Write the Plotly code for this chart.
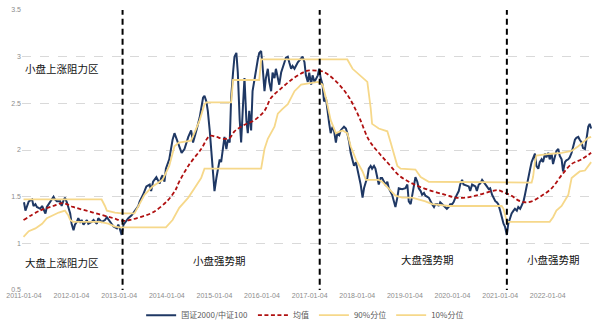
import pandas as pd
import plotly.graph_objects as go

# ---------------- data (decimal years) ----------------
ratio_t = [2011.01,2011.04,2011.11,2011.18,2011.21,2011.25,2011.28,2011.35,2011.39,2011.46,2011.49,2011.56,2011.63,2011.66,2011.70,2011.77,2011.80,2011.84,2011.87,2011.91,2011.98,
 2012.01,2012.05,2012.08,2012.12,2012.15,2012.19,2012.22,2012.26,2012.33,2012.36,2012.43,2012.47,2012.54,2012.57,2012.64,2012.71,2012.75,2012.82,2012.89,2012.96,2012.99,
 2013.02,2013.06,2013.10,2013.14,2013.20,2013.27,2013.34,2013.41,2013.44,2013.51,2013.58,2013.65,2013.68,2013.72,2013.79,2013.86,2013.89,2013.92,2013.96,2013.99,
 2014.06,2014.10,2014.13,2014.17,2014.20,2014.25,2014.32,2014.38,2014.46,2014.52,2014.56,2014.63,2014.70,2014.77,2014.80,2014.84,2014.87,2014.91,2014.94,2014.98,
 2015.01,2015.05,2015.08,2015.12,2015.15,2015.19,2015.22,2015.26,2015.29,2015.33,2015.36,2015.40,2015.43,2015.47,2015.50,2015.54,2015.57,2015.61,2015.64,2015.68,2015.71,2015.74,2015.78,2015.81,2015.85,2015.88,2015.92,2015.95,2015.99,
 2016.02,2016.06,2016.09,2016.13,2016.16,2016.20,2016.23,2016.27,2016.30,2016.34,2016.37,2016.41,2016.44,2016.48,2016.51,2016.55,2016.58,2016.62,2016.65,2016.69,2016.76,2016.83,2016.86,2016.90,2016.93,2016.97,
 2017.00,2017.04,2017.07,2017.11,2017.18,2017.21,2017.24,2017.28,2017.31,2017.35,2017.38,2017.42,2017.45,2017.49,2017.52,2017.56,2017.59,2017.63,2017.66,2017.70,2017.73,2017.77,2017.80,2017.84,2017.87,2017.91,2017.94,2017.98,
 2018.01,2018.05,2018.08,2018.12,2018.15,2018.19,2018.22,2018.25,2018.29,2018.32,2018.36,2018.39,2018.43,2018.46,2018.50,2018.53,2018.57,2018.60,2018.64,2018.67,2018.74,2018.81,2018.85,2018.88,2018.95,
 2019.02,2019.06,2019.09,2019.13,2019.16,2019.20,2019.23,2019.27,2019.30,2019.34,2019.37,2019.41,2019.44,2019.51,2019.55,2019.58,2019.62,2019.65,2019.69,2019.72,2019.75,2019.79,2019.82,2019.86,2019.89,2019.93,2019.96,
 2020.00,2020.03,2020.07,2020.10,2020.14,2020.17,2020.21,2020.24,2020.28,2020.35,2020.38,2020.42,2020.49,2020.52,2020.56,2020.59,2020.63,2020.66,2020.70,2020.73,2020.77,2020.80,2020.84,2020.87,2020.91,2020.94,2020.97,
 2021.01,2021.04,2021.08,2021.11,2021.15,2021.18,2021.22,2021.25,2021.29,2021.32,2021.36,2021.39,2021.43,2021.46,2021.50,2021.53,2021.57,2021.60,2021.64,2021.67,2021.70,2021.74,2021.77,2021.81,2021.84,2021.88,2021.91,2021.95,2021.98,
 2022.02,2022.05,2022.09,2022.12,2022.16,2022.19,2022.23,2022.26,2022.30,2022.33,2022.37,2022.40,2022.44,2022.47,2022.51,2022.54,2022.58,2022.61,2022.65,2022.68,2022.72,2022.75,2022.79,2022.82,2022.86,2022.89,2022.92]
ratio_v = [1.44,1.35,1.45,1.47,1.40,1.42,1.39,1.37,1.40,1.32,1.39,1.44,1.50,1.47,1.45,1.45,1.40,1.46,1.49,1.44,1.32,
 1.21,1.14,1.20,1.23,1.27,1.23,1.25,1.20,1.25,1.21,1.23,1.25,1.21,1.27,1.23,1.25,1.28,1.23,1.18,1.16,1.20,
 1.16,1.09,1.20,1.23,1.27,1.30,1.35,1.40,1.45,1.52,1.61,1.63,1.56,1.66,1.71,1.64,1.70,1.73,1.66,1.80,
 1.90,2.04,2.11,2.18,2.14,2.08,1.97,2.01,2.14,2.21,2.08,2.21,2.35,2.56,2.58,2.52,2.42,2.21,2.01,1.80,
 1.56,1.70,1.80,1.90,1.87,2.01,2.14,2.01,2.11,2.08,2.56,2.83,3.00,3.04,2.83,2.32,2.08,2.49,2.77,2.32,2.18,2.42,2.21,2.63,2.77,2.87,2.97,3.04,3.06,
 2.90,2.63,2.77,2.87,2.73,2.63,2.83,2.77,2.87,2.77,2.70,2.83,2.87,2.94,2.99,3.00,2.94,2.87,2.90,2.87,2.94,2.99,3.00,2.94,2.80,2.73,
 2.83,2.70,2.80,2.73,2.80,2.87,2.77,2.70,2.52,2.56,2.42,2.28,2.18,2.25,2.21,2.08,2.18,2.16,2.21,2.23,2.25,2.23,2.18,2.08,1.97,1.89,1.83,1.87,
 1.80,1.70,1.63,1.49,1.59,1.66,1.70,1.80,1.83,1.80,1.83,1.80,1.70,1.63,1.70,1.70,1.66,1.63,1.66,1.59,1.52,1.39,1.49,1.59,1.58,
 1.59,1.63,1.45,1.42,1.51,1.63,1.71,1.66,1.59,1.56,1.52,1.54,1.51,1.49,1.44,1.42,1.39,1.42,1.42,1.40,1.44,1.42,1.40,1.39,1.37,1.39,1.42,
 1.42,1.44,1.49,1.52,1.56,1.63,1.68,1.63,1.62,1.61,1.56,1.63,1.61,1.56,1.63,1.64,1.68,1.66,1.64,1.61,1.58,1.59,1.52,1.49,1.45,1.44,1.42,
 1.35,1.28,1.21,1.18,1.09,1.21,1.28,1.32,1.35,1.37,1.35,1.39,1.37,1.40,1.45,1.52,1.63,1.73,1.80,1.87,1.92,1.96,1.83,1.80,1.87,1.90,1.87,1.96,1.92,
 1.97,1.90,1.96,1.85,1.94,1.99,2.01,1.94,1.90,1.77,1.87,1.89,1.90,1.92,1.97,2.04,2.11,2.13,2.14,2.11,2.08,2.02,2.01,2.11,2.25,2.28,2.23]

mean_t = [2011.00,2011.34,2011.62,2011.83,2012.04,2012.32,2012.60,2012.88,2013.09,2013.23,2013.44,2013.71,2014.03,2014.20,2014.25,2014.46,2014.73,2014.91,2015.05,2015.19,2015.33,2015.43,2015.64,2015.85,2016.06,2016.20,2016.41,2016.62,2016.83,2016.97,2017.18,2017.29,2017.42,2017.63,2017.84,2018.05,2018.25,2018.46,2018.67,2018.88,2019.09,2019.30,2019.58,2019.86,2020.07,2020.28,2020.56,2020.84,2020.97,2021.11,2021.25,2021.39,2021.53,2021.67,2021.88,2022.09,2022.30,2022.51,2022.72,2022.92]
mean_v = [1.25,1.35,1.40,1.43,1.39,1.35,1.31,1.27,1.24,1.25,1.28,1.33,1.46,1.58,1.64,1.83,2.01,2.15,2.14,2.12,2.13,2.20,2.27,2.32,2.42,2.56,2.66,2.75,2.82,2.85,2.85,2.84,2.80,2.70,2.56,2.35,2.11,1.97,1.85,1.73,1.66,1.61,1.56,1.52,1.49,1.49,1.52,1.56,1.57,1.54,1.51,1.46,1.44,1.45,1.51,1.59,1.73,1.85,1.90,1.97]

p90_t = [2011.00,2012.64,2012.71,2012.75,2012.92,2013.06,2013.33,2013.40,2013.54,2013.71,2013.92,2014.06,2014.17,2014.26,2014.52,2014.70,2014.80,2014.84,2015.36,2015.40,2015.95,2015.99,2017.80,2017.91,2018.12,2018.22,2018.29,2018.32,2018.46,2018.64,2018.71,2018.78,2018.85,2018.92,2019.23,2019.34,2019.51,2021.67,2021.70,2021.74,2021.77,2022.09,2022.30,2022.51,2022.65,2022.86,2022.92]
p90_v = [1.47,1.47,1.40,1.35,1.33,1.32,1.32,1.39,1.52,1.61,1.68,1.83,2.04,2.08,2.10,2.32,2.49,2.51,2.51,2.75,2.75,2.97,2.97,2.87,2.77,2.73,2.45,2.28,2.23,2.20,2.08,1.94,1.83,1.80,1.79,1.71,1.66,1.65,1.71,1.87,1.94,1.96,1.97,1.99,2.04,2.13,2.14]

p10_t = [2011.00,2011.11,2011.25,2011.39,2011.49,2011.60,2011.74,2011.87,2011.94,2011.98,2012.04,2012.60,2012.78,2012.92,2013.02,2013.99,2014.03,2014.13,2014.27,2014.46,2014.59,2014.73,2014.80,2015.99,2016.06,2016.13,2016.27,2016.34,2016.44,2016.55,2016.69,2016.83,2017.18,2017.28,2017.35,2017.45,2017.56,2017.70,2017.80,2017.87,2017.98,2018.12,2018.19,2018.46,2018.53,2018.67,2018.81,2018.95,2019.16,2019.44,2019.58,2019.93,2021.04,2021.08,2021.15,2022.05,2022.12,2022.19,2022.30,2022.44,2022.51,2022.58,2022.68,2022.79,2022.89,2022.92]
p10_v = [1.07,1.13,1.16,1.21,1.27,1.30,1.33,1.35,1.30,1.25,1.23,1.23,1.21,1.18,1.17,1.17,1.19,1.25,1.38,1.49,1.59,1.70,1.80,1.80,2.01,2.12,2.25,2.39,2.44,2.49,2.63,2.70,2.73,2.70,2.56,2.32,2.18,2.21,2.18,2.04,1.90,1.77,1.68,1.68,1.66,1.59,1.51,1.49,1.49,1.45,1.42,1.40,1.40,1.37,1.23,1.23,1.28,1.35,1.40,1.52,1.70,1.73,1.77,1.78,1.85,1.87]

split_t = [2013.08, 2017.22, 2021.15]
tick_labels = ["2011-01-04","2012-01-04","2013-01-04","2014-01-04","2015-01-04","2016-01-04",
               "2017-01-04","2018-01-04","2019-01-04","2020-01-04","2021-01-04","2022-01-04"]
y_ticks = [0.5, 1, 1.5, 2, 2.5, 3, 3.5]
zone_text = ["小盘上涨阻力区", "大盘上涨阻力区", "小盘强势期", "大盘强势期", "小盘强势期"]
zone_t = [2011.80, 2011.80, 2015.11, 2019.48, 2022.12]
zone_v = [2.87, 0.80, 0.82, 0.83, 0.83]


def yr(v):
    return pd.Timestamp("2011-01-01") + pd.Timedelta(days=(v - 2011.0) * 365.25)


def dates(lst):
    return [yr(v) for v in lst]


fig = go.Figure()
fig.add_trace(go.Scatter(x=dates(ratio_t), y=ratio_v, mode="lines", name="国证2000/中证100",
                         line=dict(color="#1F3864", width=2)))
fig.add_trace(go.Scatter(x=dates(mean_t), y=mean_v, mode="lines", name="均值", line_shape="spline",
                         line=dict(color="#B01010", width=1.8, dash="4px,2.5px")))
fig.add_trace(go.Scatter(x=dates(p90_t), y=p90_v, mode="lines", name="90%分位",
                         line=dict(color="#F6D88A", width=1.8)))
fig.add_trace(go.Scatter(x=dates(p10_t), y=p10_v, mode="lines", name="10%分位",
                         line=dict(color="#F6D88A", width=1.8)))

for s in split_t:
    fig.add_shape(type="line", x0=yr(s), x1=yr(s), y0=0.45, y1=3.5, xref="x", yref="y",
                  line=dict(color="black", width=2, dash="6px,4px"))

for txt, t, v in zip(zone_text, zone_t, zone_v):
    fig.add_annotation(x=yr(t), y=v, text=txt, showarrow=False,
                       font=dict(family="Noto Sans CJK SC", size=10.5, color="#111111"))

tick_dates = [pd.Timestamp(s) for s in tick_labels]
fig.update_layout(
    width=600, height=336,
    margin=dict(l=20, r=6, t=9, b=37),
    paper_bgcolor="white", plot_bgcolor="white",
    font=dict(family="Liberation Sans, Noto Sans CJK SC", size=7, color="#7f7f7f"),
    showlegend=True,
    legend=dict(orientation="h", x=0.495, xanchor="center", y=-0.09, yanchor="middle",
                font=dict(size=8, color="#595959", family="Noto Sans CJK SC"),
                itemwidth=30, tracegroupgap=0),
    xaxis=dict(range=[yr(2010.968), yr(2022.98)], tickmode="array", tickvals=tick_dates,
               ticktext=tick_labels, showgrid=False, zeroline=False, showline=False,
               ticks="", tickfont=dict(size=7, color="#8c8c8c"), tickangle=0),
    yaxis=dict(range=[0.5, 3.5], tickmode="array", tickvals=y_ticks,
               ticktext=[str(v) for v in y_ticks], showgrid=True, gridcolor="#d9d9d9",
               griddash="dash", gridwidth=1, zeroline=False, showline=False,
               tickfont=dict(size=7, color="#8c8c8c"), ticks=""),
)

fig.write_html("out.html")
